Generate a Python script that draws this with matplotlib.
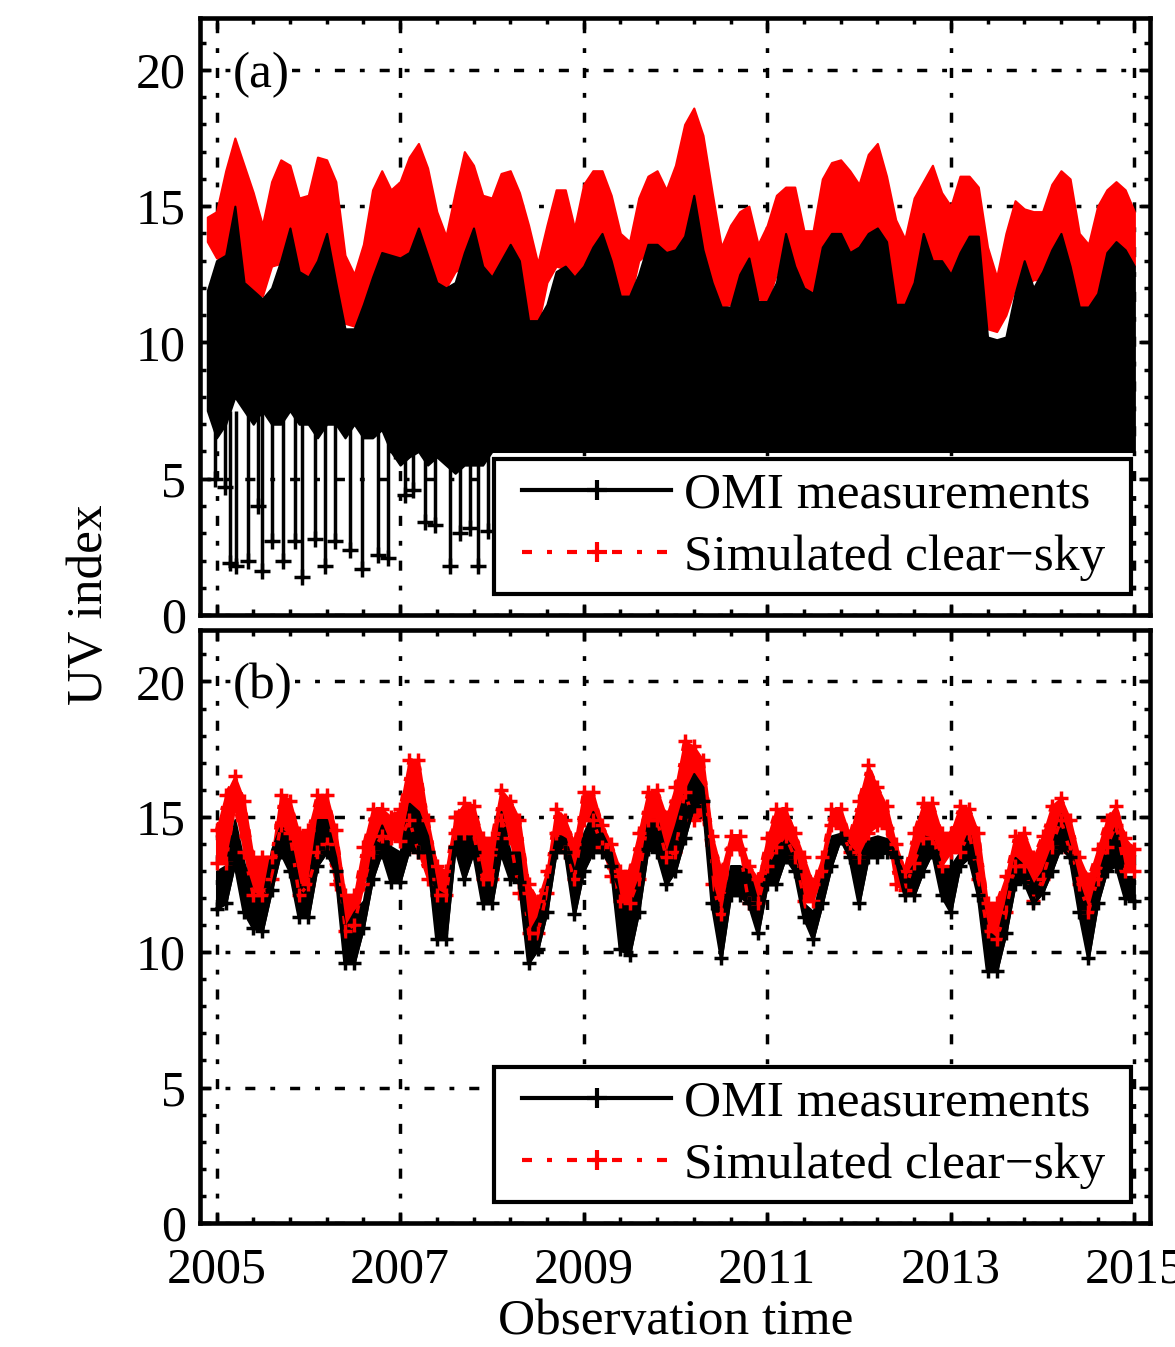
import numpy as np
import matplotlib.pyplot as plt
from matplotlib.lines import Line2D
from matplotlib.legend_handler import HandlerLine2D
from matplotlib.ticker import FixedLocator, MultipleLocator

plt.rcParams['font.family'] = ['Liberation Serif', 'DejaVu Serif']

# time axis (decimal years), one reading every 0.1 yr
t = np.round(np.arange(2004.9, 2015.05, 0.1), 2)

# panel (a): daily data, read as envelopes
red_hi_a = [14.6, 14.8, 16.3, 17.5, 16.5, 15.5, 14.3, 15.9, 16.7, 16.5,
            15.3, 15.4, 16.8, 16.7, 15.9, 13.2, 12.5, 13.6, 15.6, 16.3,
            15.6, 15.9, 16.8, 17.3, 16.4, 14.8, 13.9, 15.5, 17.0, 16.5,
            15.4, 15.3, 16.2, 16.3, 15.5, 14.3, 12.9, 14.3, 15.6, 15.6,
            14.2, 15.8, 16.3, 16.3, 15.4, 14.0, 13.7, 15.3, 16.1, 16.3,
            15.6, 16.5, 18.0, 18.6, 17.6, 15.5, 13.5, 14.3, 14.8, 15.0,
            13.6, 14.3, 15.4, 15.7, 15.7, 14.1, 14.1, 16.0, 16.6, 16.7,
            16.3, 15.8, 16.9, 17.3, 16.1, 14.5, 13.8, 15.3, 15.9, 16.5,
            15.5, 15.0, 16.1, 16.1, 15.7, 13.5, 12.4, 14.0, 15.2, 14.9,
            14.8, 14.8, 15.8, 16.3, 16.0, 14.0, 13.6, 15.0, 15.6, 15.9,
            15.6, 14.8]
red_lo_a = [13.7, 13.1, 13.0, 13.2, 12.3, 11.9, 11.7, 12.8, 12.9, 12.6,
            12.4, 12.4, 13.0, 13.0, 12.3, 10.7, 10.6, 11.2, 12.4, 13.0,
            13.1, 13.1, 13.2, 13.2, 12.4, 12.0, 12.0, 12.6, 12.8, 12.8,
            12.4, 12.4, 12.8, 12.8, 12.3, 10.9, 10.6, 12.2, 12.8, 12.7,
            12.3, 12.6, 13.3, 13.3, 12.4, 11.5, 11.5, 13.0, 13.3, 13.3,
            13.3, 13.3, 13.5, 13.8, 13.3, 12.0, 11.3, 11.4, 12.2, 12.2,
            11.6, 11.5, 12.5, 12.9, 12.6, 11.4, 11.3, 12.5, 13.0, 13.3,
            13.3, 13.3, 13.4, 13.6, 12.4, 11.4, 11.3, 12.0, 12.9, 12.7,
            12.7, 12.5, 13.1, 13.2, 12.2, 10.5, 10.4, 11.0, 12.0, 12.0,
            12.3, 12.3, 12.8, 12.9, 12.2, 11.3, 11.3, 11.8, 12.8, 12.8,
            12.8, 12.8]
blk_hi_a = [11.9, 13.0, 13.2, 15.0, 12.2, 11.9, 11.6, 12.0, 13.0, 14.2,
            12.6, 12.4, 13.0, 14.0, 12.2, 10.5, 10.5, 11.4, 12.4, 13.3,
            13.2, 13.1, 13.3, 14.2, 13.2, 12.2, 12.0, 12.2, 13.3, 14.2,
            12.8, 12.4, 13.0, 13.6, 13.0, 10.8, 10.8, 11.4, 12.6, 12.8,
            12.4, 12.8, 13.5, 14.0, 13.0, 11.7, 11.7, 12.5, 13.6, 13.6,
            13.3, 13.4, 13.9, 15.4, 13.4, 12.2, 11.3, 11.3, 12.5, 13.1,
            11.5, 11.5, 12.2, 14.0, 12.8, 12.0, 11.8, 13.5, 14.0, 14.0,
            13.3, 13.5, 14.0, 14.2, 13.7, 11.4, 11.4, 12.2, 14.0, 13.0,
            13.0, 12.5, 13.3, 13.9, 13.9, 10.2, 10.1, 10.2, 11.8, 13.0,
            12.0, 12.6, 13.4, 14.0, 12.8, 11.3, 11.3, 11.8, 13.3, 13.7,
            13.4, 12.8]
blk_lo_a = [7.5, 6.5, 7.0, 8.0, 7.5, 7.0, 7.5, 7.0, 7.0, 7.5,
            7.0, 7.0, 6.5, 7.0, 7.0, 6.5, 7.0, 6.5, 6.5, 6.8,
            6.0, 5.5, 5.8, 6.0, 5.5, 5.8, 5.5, 5.2, 5.5, 5.5,
            5.5] + [6.0] * 71

# cloudy-day drops in OMI data (visible left of the legend)
spike_t = [2004.98, 2005.09, 2005.15, 2005.21, 2005.34, 2005.45, 2005.50,
           2005.60, 2005.72, 2005.85, 2005.93, 2006.07, 2006.18, 2006.29,
           2006.45, 2006.58, 2006.76, 2006.87, 2006.94, 2007.05, 2007.14,
           2007.27, 2007.38, 2007.54, 2007.65, 2007.76, 2007.85, 2007.96]
spike_v = [5.0, 4.7, 1.9, 1.8, 2.0, 4.0, 1.6, 2.7, 2.0, 2.7, 1.4, 2.8,
           1.8, 2.7, 2.4, 1.7, 2.2, 2.1, 6.0, 4.4, 4.6, 3.4, 3.3, 1.8,
           3.0, 3.2, 1.8, 3.1]

# panel (b): matched data
nan = np.nan
red_hi_b = [nan, 14.5, 15.8, 16.5, 15.6, 13.5, 13.5, 13.5, 15.8, 15.6,
            14.4, 14.5, 15.8, 15.8, 14.5, 12.1, 12.1, 13.9, 15.3, 15.3,
            15.0, 15.3, 17.1, 17.1, 14.9, 13.2, 13.0, 15.0, 15.5, 15.4,
            14.2, 14.2, 16.0, 15.6, 14.9, 12.5, 11.9, 13.0, 15.3, 14.9,
            14.0, 15.9, 15.9, 14.7, 14.0, 13.0, 13.0, 14.4, 15.9, 16.0,
            15.0, 16.1, 17.8, 17.6, 17.1, 14.3, 13.0, 14.3, 14.3, 13.2,
            12.7, 14.2, 15.3, 15.3, 14.4, 13.5, 12.5, 13.5, 15.3, 15.3,
            14.3, 15.6, 16.9, 16.1, 15.4, 14.0, 13.0, 14.4, 15.5, 15.5,
            14.4, 14.4, 15.4, 15.3, 14.4, 11.8, 11.8, 12.8, 14.3, 14.4,
            13.5, 14.3, 15.4, 15.7, 14.9, 13.5, 12.7, 13.8, 14.9, 15.4,
            14.2, 13.8]
red_lo_b = [nan, 13.3, 13.3, 15.4, 13.7, 12.1, 12.1, 12.7, 14.7, 14.4,
            12.1, 12.5, 13.7, 14.0, 12.5, 10.8, 11.0, 12.5, 13.7, 14.3,
            14.2, 14.1, 14.9, 13.7, 12.7, 12.1, 12.1, 14.4, 14.4, 14.4,
            12.7, 12.7, 14.9, 14.2, 12.2, 10.7, 10.7, 12.2, 14.4, 13.7,
            12.7, 14.9, 14.9, 13.9, 12.8, 11.9, 11.8, 12.7, 14.9, 14.9,
            13.5, 13.7, 15.9, 14.9, 15.1, 12.5, 11.4, 13.8, 13.8, 11.8,
            11.8, 13.2, 13.9, 14.3, 13.5, 11.9, 11.9, 13.0, 14.7, 14.6,
            13.7, 13.5, 14.4, 14.7, 14.6, 12.5, 12.3, 13.3, 14.2, 14.2,
            13.2, 13.7, 13.7, 14.4, 12.7, 10.8, 10.5, 11.5, 13.2, 13.2,
            11.9, 12.7, 13.9, 14.9, 13.7, 12.5, 11.5, 12.7, 13.9, 14.7,
            13.0, 13.0]
blk_hi_b = [nan, 13.0, 13.2, 14.9, 13.3, 12.2, 12.0, 13.8, 14.7, 14.2,
            12.5, 12.5, 14.9, 14.9, 13.5, 10.9, 11.5, 11.9, 13.8, 14.7,
            13.9, 13.7, 15.5, 15.2, 14.3, 12.3, 12.1, 14.4, 14.3, 14.4,
            12.7, 12.7, 15.2, 13.7, 13.7, 10.7, 11.3, 12.6, 14.4, 14.2,
            13.0, 14.4, 15.2, 14.4, 13.7, 11.8, 11.8, 12.7, 14.9, 14.9,
            13.6, 14.7, 15.9, 16.6, 16.1, 12.5, 11.3, 13.2, 13.2, 13.0,
            11.8, 13.2, 13.9, 14.2, 13.7, 11.8, 11.5, 12.9, 14.3, 14.4,
            13.9, 13.5, 14.2, 14.3, 14.2, 13.7, 12.7, 13.3, 14.3, 14.2,
            13.2, 13.2, 13.7, 14.5, 12.7, 10.8, 10.5, 11.9, 13.5, 13.2,
            12.5, 13.0, 13.9, 15.1, 13.9, 12.5, 11.5, 12.8, 13.9, 14.7,
            12.8, 12.8]
blk_lo_b = [nan, 11.6, 11.8, 13.3, 11.5, 10.9, 10.8, 12.3, 13.7, 13.0,
            11.3, 11.3, 13.2, 13.7, 13.0, 9.6, 9.6, 10.9, 12.7, 13.7,
            12.6, 12.6, 13.8, 13.7, 13.7, 10.5, 10.5, 13.9, 12.7, 13.7,
            11.8, 11.8, 13.7, 12.7, 12.6, 9.6, 10.1, 11.5, 13.7, 13.7,
            11.4, 13.0, 13.7, 13.7, 13.2, 10.1, 9.9, 11.5, 13.8, 13.7,
            12.5, 13.0, 14.2, 15.4, 15.6, 11.8, 9.8, 12.1, 12.1, 11.8,
            10.7, 12.5, 12.5, 13.5, 13.0, 11.3, 10.5, 11.8, 13.2, 14.2,
            13.5, 11.8, 13.5, 13.5, 13.7, 13.5, 12.1, 12.1, 13.0, 13.7,
            12.1, 11.5, 13.2, 13.5, 12.1, 9.3, 9.3, 10.7, 12.5, 12.6,
            11.8, 12.2, 13.0, 13.9, 13.5, 11.5, 9.8, 11.8, 13.0, 13.2,
            12.0, 11.9]

years = [2005, 2007, 2009, 2011, 2013, 2015]
grid_ls = (0, (2.9, 4.3, 1.4, 4.3))
red_ls = (0, (2.4, 3.6, 1.2, 3.6))

fig = plt.figure(figsize=(11.75, 13.47), dpi=100)
ax1 = fig.add_axes([0.1702, 0.5434, 0.8085, 0.4432])
ax2 = fig.add_axes([0.1702, 0.0921, 0.8085, 0.4402])

# (a)
ax1.fill_between(t, red_lo_a, red_hi_a, color='r', lw=1.5, edgecolor='r')
ax1.fill_between(t, blk_lo_a, blk_hi_a, color='k', lw=1.5, edgecolor='k')
ax1.vlines(spike_t, spike_v, 7.5, color='k', lw=2.5)
ax1.plot(spike_t, spike_v, '+', color='k', ms=12, mew=2.5)

# (b)
ax2.fill_between(t, red_lo_b, red_hi_b, color='r', lw=1.5, edgecolor='r')
ax2.plot(t, red_hi_b, color='r', ls=red_ls, lw=2.5, marker='+', ms=10, mew=2.5)
ax2.plot(t, red_lo_b, color='r', ls=red_ls, lw=2.5, marker='+', ms=10, mew=2.5)
ax2.fill_between(t, blk_lo_b, blk_hi_b, color='k', lw=1.5, edgecolor='k')
ax2.plot(t, blk_lo_b, '-', color='k', lw=2.5, marker='+', ms=10, mew=2.5)

handles = [Line2D([], [], color='k', ls='-', lw=3, marker='+', ms=14, mew=3),
           Line2D([], [], color='r', ls=red_ls, lw=3, marker='+', ms=14, mew=3)]
labels = ['OMI measurements', 'Simulated clear\u2212sky ']

for ax, tag in [(ax1, '(a)'), (ax2, '(b)')]:
    ax.set_xlim(2004.82, 2015.17)
    ax.set_ylim(0, 21.9)
    ax.set_xticks(years)
    ax.xaxis.set_minor_locator(FixedLocator(np.arange(2005, 2015.01, 0.4)))
    ax.set_yticks([0, 5, 10, 15, 20])
    ax.yaxis.set_minor_locator(MultipleLocator(1))
    ax.tick_params(which='both', direction='in', top=True, right=True,
                   width=2.5, labelsize=36, pad=10)
    ax.tick_params(which='major', length=8)
    ax.tick_params(which='minor', length=4)
    ax.set_axisbelow(True)
    ax.grid(True, which='major', color='k', ls=grid_ls, lw=2.5)
    for s in ax.spines.values():
        s.set_linewidth(3.3)
    ax.text(0.035, 0.905, tag, transform=ax.transAxes, fontsize=37,
            ha='left', va='center',
            bbox=dict(facecolor='white', edgecolor='none', pad=1))
    leg = ax.legend(handles, labels, loc='lower right',
                    bbox_to_anchor=(0.98, 0.035), fontsize=37,
                    fancybox=False, framealpha=1, edgecolor='k',
                    handlelength=3.2, handletextpad=0.25, labelspacing=0.3,
                    borderpad=0.25, borderaxespad=0,
                    handler_map={Line2D: HandlerLine2D(xpad=0.3)})
    leg.get_frame().set_linewidth(3)

ax1.tick_params(axis='x', labelbottom=False)
ax2.tick_params(axis='x', pad=17)

fig.text(0.0766, 0.551, 'UV index', rotation=90, fontsize=37,
         ha='center', va='center')
fig.text(0.575, 0.0186, 'Observation time', fontsize=37,
         ha='center', va='center')

fig.savefig('out.png', dpi=100)
